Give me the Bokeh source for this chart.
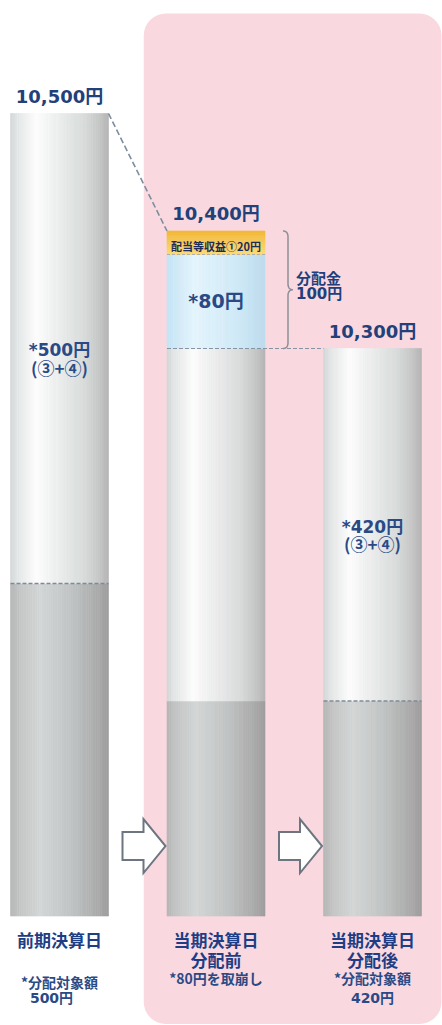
import numpy as np
from bokeh.plotting import figure
from bokeh.models import ColumnDataSource, BoxAnnotation, Range1d
from bokeh.embed import file_html
from bokeh.resources import INLINE
from bokeh.core.properties import value

# ---------------- data ----------------
bar_names = ["前期決算日", "当期決算日", "当期決算日"]
bar_sub = ["", "分配前", "分配後"]
note_line1 = ["*分配対象額", "*80円を取崩し", "*分配対象額"]
note_line2 = ["500円", "", "420円"]
nav_total = [10500, 10400, 10300]            # 基準価額
nav_labels = ["10,500円", "10,400円", "10,300円"]
dist_labels = ["*500円", "", "*420円"]       # 分配対象額 (③+④)
dist_sub = ["(③+④)", "", "(③+④)"]
income = 20                                   # 配当等収益①
income_label = "配当等収益①20円"
drawdown = 80                                 # 取崩し
drawdown_label = "*80円"
distribution_label = ["分配金", "100円"]
base_level = [10100, 10000, 10000]            # top of the darker lower part (schematic)
bar_floor = 9817                              # bottom of the bars (schematic)

# ---------------- layout / style ----------------
W, H = 442, 1025
X0, X1 = 0.6230, 3.4473
Y0, Y1 = 9723.83, 10596.17
DX = (X1 - X0) / W
DY = (Y1 - Y0) / H
BW = 98 * DX
xs = [1, 2, 3]

NAVY = "#213f7c"
FONT_NUM = value("DejaVu Sans, Noto Sans CJK JP")
FONT_JP = value("Noto Sans CJK JP")

LIGHT = [(0, "#d2d5d5"), (0.07, "#e3e6e6"), (0.27, "#fdfdfd"), (0.42, "#f1f2f2"),
         (0.75, "#d8dcdb"), (0.93, "#c2c3c3"), (1, "#b4b4b4")]
DARK = [(0, "#b5b6b6"), (0.1, "#c4c6c6"), (0.3, "#d3d6d6"), (0.6, "#c2c5c5"),
        (0.9, "#a9aaaa"), (1, "#9d9d9d")]
BLUE = [(0, "#c4e4f5"), (0.28, "#e4f5fd"), (0.7, "#d0ebf8"), (1, "#bcdcee")]
YELLOW = [(0, "#f2b735"), (1, "#fbdc74")]   # top -> bottom


def hex2rgb(h):
    return tuple(int(h[i:i + 2], 16) for i in (1, 3, 5))


def grad(stops, t):
    for (t0, c0), (t1, c1) in zip(stops[:-1], stops[1:]):
        if t0 <= t <= t1:
            f = (t - t0) / (t1 - t0) if t1 > t0 else 0
            a, b = hex2rgb(c0), hex2rgb(c1)
            return "#%02x%02x%02x" % tuple(round(a[k] + (b[k] - a[k]) * f) for k in range(3))
    return stops[-1][1]


strips = dict(left=[], right=[], bottom=[], top=[], color=[])


def add_hgrad(xc, y0, y1, stops, n=44):
    w = BW / n
    for k in range(n):
        strips["left"].append(xc - BW / 2 + k * w)
        strips["right"].append(xc - BW / 2 + (k + 1) * w)
        strips["bottom"].append(y0)
        strips["top"].append(y1)
        strips["color"].append(grad(stops, (k + 0.5) / n))


def add_vgrad(xc, y0, y1, stops, n=12):
    h = (y1 - y0) / n
    for k in range(n):
        strips["left"].append(xc - BW / 2)
        strips["right"].append(xc + BW / 2)
        strips["bottom"].append(y1 - (k + 1) * h)
        strips["top"].append(y1 - k * h)
        strips["color"].append(grad(stops, (k + 0.5) / n))


p = figure(width=W, height=H, x_range=Range1d(X0, X1), y_range=Range1d(Y0, Y1),
           output_backend="svg", toolbar_location=None, min_border=0,
           x_axis_location=None, y_axis_location=None, background_fill_color="white")
p.grid.visible = False
p.outline_line_color = None

# pink panel behind the current-period bars
p.add_layout(BoxAnnotation(left=(xs[0] + xs[1]) / 2 + 6 * DX, right=X1 - 1 * DX,
                           top=nav_total[0] + 100 * DY, bottom=bar_floor - 108 * DY,
                           fill_color="#f9d9df", fill_alpha=1, line_color=None,
                           border_radius=22, level="underlay"))

# bars
light_top = [nav_total[0], nav_total[1] - income - drawdown, nav_total[2]]
for i, xc in enumerate(xs):
    add_hgrad(xc, bar_floor, base_level[i], DARK)
    add_hgrad(xc, base_level[i], light_top[i], LIGHT)
add_hgrad(xs[1], light_top[1], light_top[1] + drawdown, BLUE)
add_vgrad(xs[1], light_top[1] + drawdown, nav_total[1], YELLOW)

p.quad(left="left", right="right", bottom="bottom", top="top", fill_color="color",
       line_color="color", line_width=0.6, source=ColumnDataSource(strips))

# dividers inside bars
p.segment(x0=[xs[0] - BW / 2, xs[2] - BW / 2], y0=[base_level[0], base_level[2]],
          x1=[xs[0] + BW / 2, xs[2] + BW / 2], y1=[base_level[0], base_level[2]],
          line_color="#7f8a95", line_width=1.5, line_dash="4 2")
p.segment(x0=[xs[1] - BW / 2], y0=[light_top[1] + drawdown], x1=[xs[1] + BW / 2],
          y1=[light_top[1] + drawdown], line_color="#a9b0b8", line_width=1, line_dash="3 2")
# level line 10,300 from bar 2 to bar 3
p.segment(x0=[xs[1] - BW / 2], y0=[nav_total[2]], x1=[xs[2] - BW / 2], y1=[nav_total[2]],
          line_color="#8793a0", line_width=1.2, line_dash="4 2")
# diagonal from previous NAV to current NAV
p.segment(x0=[xs[0] + BW / 2], y0=[nav_total[0]], x1=[xs[1] - BW / 2], y1=[nav_total[1]],
          line_color="#7d8d9d", line_width=1.6, line_dash="6 3")


# curly brace for distribution
def qbez(p0, c, p1, n=12):
    t = np.linspace(0, 1, n)
    return [((1 - s) ** 2 * p0[0] + 2 * (1 - s) * s * c[0] + s ** 2 * p1[0],
             (1 - s) ** 2 * p0[1] + 2 * (1 - s) * s * c[1] + s ** 2 * p1[1]) for s in t]


bh = (nav_total[1] - light_top[1]) / DY
mid = bh / 2
pts = []
pts += qbez((18, 0), (23, 0), (23, 6))
pts += qbez((23, mid - 6), (23, mid), (28, mid))
pts += qbez((28, mid), (23, mid), (23, mid + 6))
pts += qbez((23, bh - 6), (23, bh), (18, bh))
bx = [xs[1] + BW / 2 + px * DX for px, py in pts]
by = [nav_total[1] - py * DY for px, py in pts]
p.line(bx, by, line_color="#8c9096", line_width=1.5)

# block arrows between bars
ARROW = [(0, 14), (21, 14), (21, 27), (43, 0), (21, -27), (21, -14), (0, -14)]
axs, ays = [], []
for i in range(2):
    ax0 = xs[i] + BW / 2 + 14 * DX
    ay0 = bar_floor + 70 * DY
    axs.append([ax0 + px * DX for px, py in ARROW])
    ays.append([ay0 + py * DY for px, py in ARROW])
p.patches(axs, ays, fill_color="white", line_color="#6c7580", line_width=2, line_join="miter")


# ---------------- texts ----------------
def txt(x, y, t, size, font=FONT_JP, color=NAVY, align="center", style="bold"):
    p.text(x=x, y=y, text=t, text_font=font, text_font_size=size, text_font_style=style,
           text_color=color, text_align=align, text_baseline="middle")


txt(xs, [v + 17 * DY for v in nav_total], nav_labels, "18px", FONT_NUM, "#22407a")

# distributable amounts inside bars
for i in (0, 2):
    m = (base_level[i] + light_top[i]) / 2
    txt([xs[i]], [m - 2 * DY], [dist_labels[i]], "17px", FONT_NUM, "#2a4a86")
    txt([xs[i]], [m - 19 * DY], [dist_sub[i]], "17px", FONT_JP, "#2a4a86")

txt([xs[1]], [light_top[1] + drawdown / 2], [drawdown_label], "19px", FONT_NUM, "#2a4a86")
txt([xs[1]], [nav_total[1] - income / 2 - 3 * DY], [income_label], "11px", FONT_JP, "#1c2c5a")

dx0 = xs[1] + BW / 2 + 31 * DX
dm = (nav_total[1] + light_top[1]) / 2
txt([dx0], [dm + 12 * DY], [distribution_label[0]], "15px", FONT_JP, NAVY, "left")
txt([dx0], [dm - 4 * DY], [distribution_label[1]], "15px", FONT_NUM, NAVY, "left")

# category labels and notes
txt(xs, [bar_floor - 23 * DY] * 3, bar_names, "17px", FONT_JP, "#1d3d85")
txt(xs[1:], [bar_floor - 43 * DY] * 2, bar_sub[1:], "17px", FONT_JP, "#1d3d85")
n1_y = [bar_floor - (66 if s == "" else 62) * DY for s in bar_sub]
txt(xs, n1_y, note_line1, "14px", FONT_JP, "#2a4a86")
txt([xs[0] - 8 * DX, xs[2]], [bar_floor - 82 * DY] * 2, [note_line2[0], note_line2[2]],
    "14px", FONT_NUM, "#2a4a86")

open("out.html", "w").write(file_html(p, INLINE))
